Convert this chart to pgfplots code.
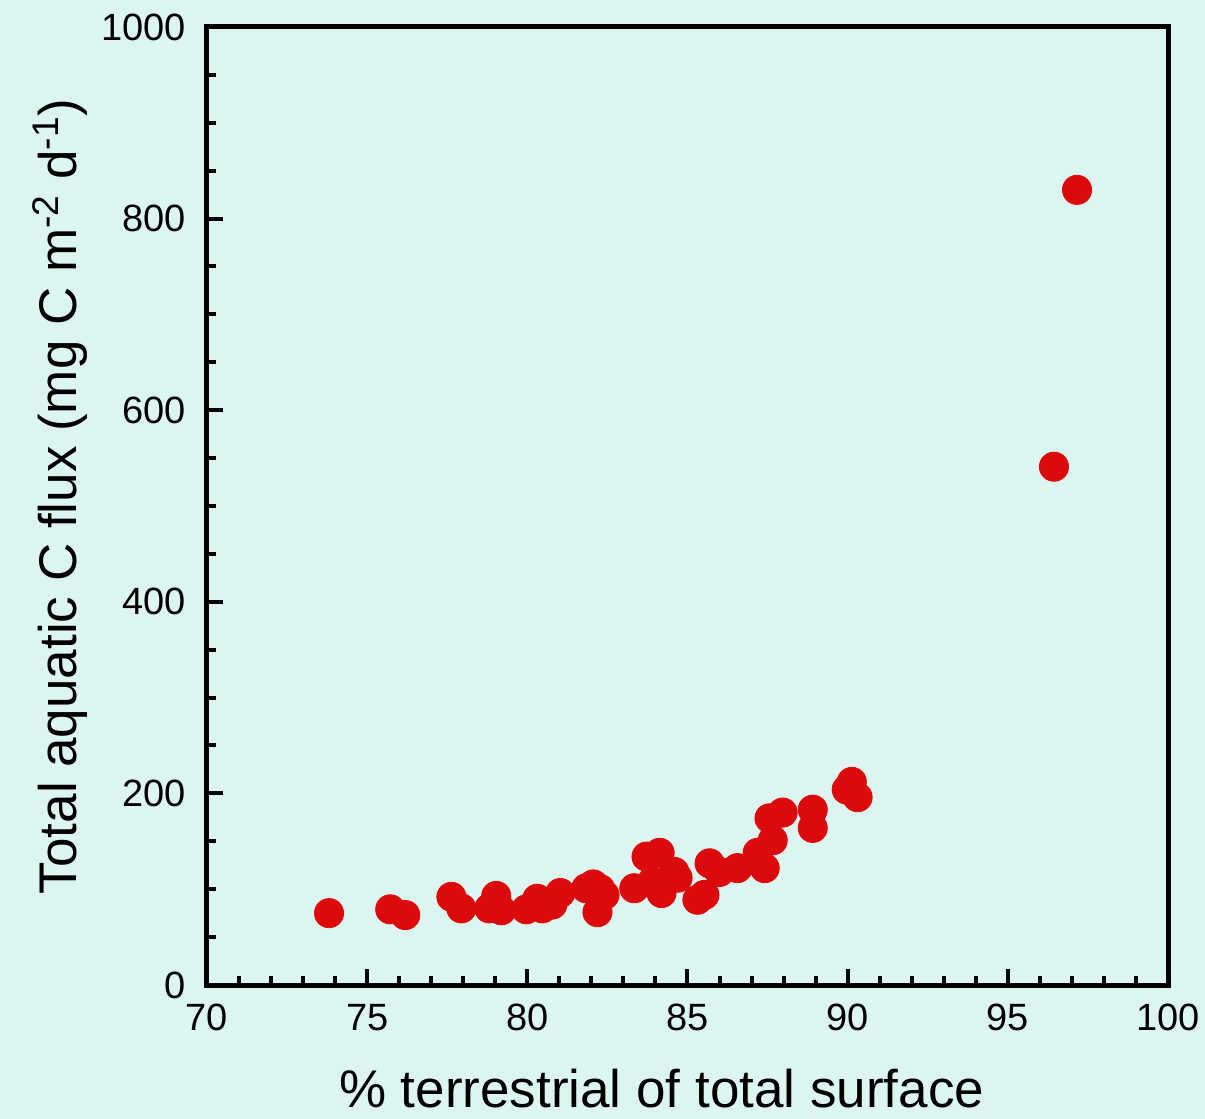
\documentclass[border=0pt]{standalone}
\usepackage{pgfplots}
\pgfplotsset{compat=1.18}
\usepackage{fontspec}
\setmainfont{Liberation Sans}
\usetikzlibrary{backgrounds}
\definecolor{bgc}{RGB}{221,245,241}
\definecolor{ptred}{RGB}{220,10,10}
\begin{document}
\begin{tikzpicture}
\begin{axis}[
  name=ax, at={(0,0)}, anchor=south west,
  scale only axis, width=480.5pt, height=479pt,
  xmin=70, xmax=100, ymin=0, ymax=1000,
  xtick={70,75,...,100}, ytick={0,200,...,1000},
  minor xtick={71,72,73,74,76,77,78,79,81,82,83,84,86,87,88,89,91,92,93,94,96,97,98,99},
  minor ytick={50,100,...,950},
  tick align=inside,
  major tick length=8pt, minor tick length=4.5pt,
  every tick/.style={line width=2pt, black},
  axis line style={line width=2.5pt},
  xtick pos=bottom, ytick pos=left,
  /pgf/number format/assume math mode=true,
  /pgf/number format/1000 sep={},
  ticklabel style={font=\fontsize{19}{21}\selectfont},
  xticklabel style={yshift=-6pt},
  yticklabel style={xshift=-7pt},
  xlabel={\% terrestrial of total surface},
  ylabel={Total aquatic C flux (mg C m\textsuperscript{-2} d\textsuperscript{-1})},
  label style={font=\fontsize{26.5}{30}\selectfont},
  xlabel style={at={(axis description cs:0.473,-0.108)}, anchor=center},
  ylabel style={at={(axis description cs:-0.153,0.51)}, anchor=center},
]
\addplot[only marks, mark=*, mark size=7.3pt, mark options={fill=ptred, draw=ptred}] coordinates {
(73.81,75) (75.72,79) (76.19,73) (77.63,92) (77.94,80) (78.81,80) (79.03,93)
(79.19,78) (79.97,79) (80.31,90) (80.47,80) (80.78,84) (81.03,96) (81.84,101)
(82.06,105) (82.19,76) (82.28,100) (82.41,94) (83.34,101) (83.72,134) (84.13,138)
(84.19,96) (84.59,118) (84.69,112) (83.9,108) (85.31,89) (85.53,94) (85.69,127)
(86.0,118) (86.56,122) (87.19,138) (87.41,122) (87.56,174) (87.66,151) (87.97,180)
(88.91,183) (88.91,164) (89.97,204) (90.13,212) (90.31,196) (96.44,541) (97.16,830)
};
\end{axis}
\pgfresetboundingbox
\path[use as bounding box] (-103.5pt,-67pt) rectangle (499pt,492.5pt);
\begin{scope}[on background layer]
\fill[bgc] (-103.5pt,-67pt) rectangle (499pt,492.5pt);
\end{scope}
\end{tikzpicture}
\end{document}
